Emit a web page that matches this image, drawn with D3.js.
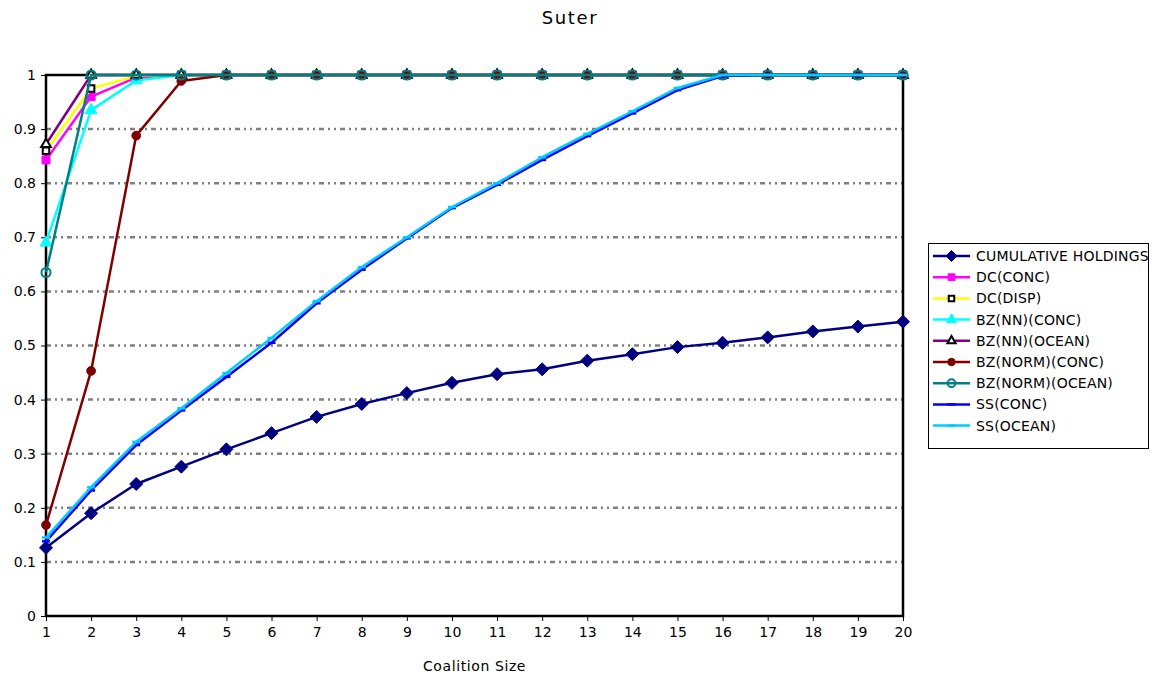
<!DOCTYPE html>
<html>
<head>
<meta charset="utf-8">
<script src="https://cdn.jsdelivr.net/npm/d3@7"></script>
<style>
  body { margin: 0; background: #fff; }
  svg { display: block; font-family: "DejaVu Sans", Verdana, sans-serif; }
</style>
</head>
<body>
<svg id="chart" width="1160" height="678"></svg>
<script>
const title = "Suter";
const xTitle = "Coalition Size";
const categories = [1,2,3,4,5,6,7,8,9,10,11,12,13,14,15,16,17,18,19,20];
const yTicks = [0,0.1,0.2,0.3,0.4,0.5,0.6,0.7,0.8,0.9,1];
const yTickLabels = ["0","0.1","0.2","0.3","0.4","0.5","0.6","0.7","0.8","0.9","1"];

const cumulativeHoldings = [0.126,0.19,0.244,0.276,0.308,0.338,0.368,0.392,0.412,0.431,0.447,0.456,0.472,0.484,0.497,0.505,0.515,0.526,0.535,0.544];
const dcConc   = [0.843,0.96,0.995,1,1,1,1,1,1,1,1,1,1,1,1,1,1,1,1,1];
const dcDisp   = [0.86,0.975,0.998,1,1,1,1,1,1,1,1,1,1,1,1,1,1,1,1,1];
const bzNnConc = [0.69,0.935,0.99,1,1,1,1,1,1,1,1,1,1,1,1,1,1,1,1,1];
const bzNnOcean = [0.872,1,1,1,1,1,1,1,1,1,1,1,1,1,1,1,1,1,1,1];
const bzNormConc = [0.168,0.453,0.888,0.989,1,1,1,1,1,1,1,1,1,1,1,1,1,1,1,1];
const bzNormOcean = [0.635,1,1,1,1,1,1,1,1,1,1,1,1,1,1,1,1,1,1,1];
const ssConc  = [0.138,0.232,0.316,0.38,0.442,0.505,0.578,0.64,0.698,0.754,0.797,0.843,0.887,0.929,0.972,0.998,1,1,1,1];
const ssOcean = [0.145,0.238,0.322,0.384,0.449,0.514,0.582,0.645,0.70,0.756,0.80,0.848,0.891,0.933,0.976,1,1,1,1,1];

const seriesNames = ["CUMULATIVE HOLDINGS","DC(CONC)","DC(DISP)","BZ(NN)(CONC)","BZ(NN)(OCEAN)","BZ(NORM)(CONC)","BZ(NORM)(OCEAN)","SS(CONC)","SS(OCEAN)"];
const seriesValues = [cumulativeHoldings, dcConc, dcDisp, bzNnConc, bzNnOcean, bzNormConc, bzNormOcean, ssConc, ssOcean];

// styles (kept separate from data)
const styles = [
  {color:"#000080", marker:"diamond", fill:"#000080", stroke:"#000080", size:6.5},
  {color:"#FF00FF", marker:"square", fill:"#FF00FF", stroke:"#FF00FF", size:64},
  {color:"#FFFF00", marker:"square", fill:"#FFFFFF", stroke:"#000000", size:42},
  {color:"#00FFFF", marker:"triangle", fill:"#00FFFF", stroke:"#00FFFF", size:60},
  {color:"#800080", marker:"triangle", fill:"#FFFFFF", stroke:"#000000", size:40},
  {color:"#800000", marker:"circle", fill:"#800000", stroke:"#800000", size:60},
  {color:"#008080", marker:"circle", fill:"none", stroke:"#008080", size:65},
  {color:"#0000FF", marker:"dash", fill:"#0000FF", stroke:"#0000FF", size:0},
  {color:"#00CCFF", marker:"dash", fill:"#00CCFF", stroke:"#00CCFF", size:0}
];

const svg = d3.select("#chart");
const pLeft = 46, pRight = 903, pTop = 75, pBottom = 616;

const x = d3.scalePoint().domain(categories).range([pLeft, pRight]);
const y = d3.scaleLinear().domain([0, 1]).range([pBottom, pTop]);

// title
svg.append("text").attr("x", 570).attr("y", 24).attr("text-anchor", "middle")
  .attr("font-size", 18).attr("letter-spacing", 1.6).attr("fill", "#000").text(title);

// gridlines
svg.append("g").selectAll("line").data(yTicks.filter(d => d > 0 && d < 1)).join("line")
  .attr("x1", pLeft).attr("x2", pRight)
  .attr("y1", d => y(d)).attr("y2", d => y(d))
  .attr("stroke", "#808080").attr("stroke-width", 2.5)
  .attr("stroke-dasharray", "5,4,2,4,2,4");

// axes
const axisFont = "DejaVu Sans, Verdana, sans-serif";
const yAxis = d3.axisLeft(y).tickValues(yTicks).tickFormat((d,i) => yTickLabels[i]).tickSize(5).tickPadding(5);
const gy = svg.append("g").attr("transform", `translate(${pLeft},0)`).call(yAxis);
gy.select(".domain").remove();
gy.selectAll("line").attr("stroke", "#000").attr("stroke-width", 1);
gy.selectAll("text").attr("font-size", 14).attr("font-family", axisFont).attr("fill", "#000");

const xAxis = d3.axisBottom(x).tickSize(5).tickPadding(6);
const gx = svg.append("g").attr("transform", `translate(0,${pBottom})`).call(xAxis);
gx.select(".domain").remove();
gx.selectAll("line").attr("stroke", "#000").attr("stroke-width", 1);
gx.selectAll("text").attr("font-size", 14).attr("font-family", axisFont).attr("fill", "#000");

// frame
svg.append("rect").attr("x", pLeft).attr("y", pTop).attr("width", pRight - pLeft).attr("height", pBottom - pTop)
  .attr("fill", "none").attr("stroke", "#000").attr("stroke-width", 2.5);

// x title
svg.append("text").attr("x", (pLeft + pRight) / 2).attr("y", 671).attr("text-anchor", "middle")
  .attr("font-size", 14).attr("letter-spacing", 0.6).attr("fill", "#000").text(xTitle);

const symbolTypes = {square: d3.symbolSquare, triangle: d3.symbolTriangle, circle: d3.symbolCircle};

function drawMarker(g, st, cx, cy, scale = 1) {
  if (st.marker === "dash") {
    g.append("line").attr("x1", cx - 4).attr("x2", cx + 4).attr("y1", cy).attr("y2", cy)
      .attr("stroke", st.stroke).attr("stroke-width", 2.5);
  } else if (st.marker === "diamond") {
    const r = st.size * scale;
    g.append("path").attr("d", `M0,${-r}L${r},0L0,${r}L${-r},0Z`)
      .attr("transform", `translate(${cx},${cy})`)
      .attr("fill", st.fill).attr("stroke", st.stroke).attr("stroke-width", 1);
  } else {
    g.append("path").attr("d", d3.symbol().type(symbolTypes[st.marker]).size(st.size * scale * scale)())
      .attr("transform", `translate(${cx},${cy})`)
      .attr("fill", st.fill).attr("stroke", st.stroke)
      .attr("stroke-width", st.fill === st.stroke ? 1 : 2);
  }
}

const line = d3.line().x((d, i) => x(categories[i])).y(d => y(d));
const plot = svg.append("g");
seriesValues.forEach((vals, si) => {
  const st = styles[si];
  const g = plot.append("g");
  g.append("path").datum(vals).attr("d", line).attr("fill", "none")
    .attr("stroke", st.color).attr("stroke-width", 2.5).attr("stroke-linejoin", "round");
  vals.forEach((v, i) => drawMarker(g, st, x(categories[i]), y(v)));
});

// legend
const lg = svg.append("g");
lg.append("rect").attr("x", 928.5).attr("y", 243.5).attr("width", 220).attr("height", 205)
  .attr("fill", "#fff").attr("stroke", "#000").attr("stroke-width", 1);
seriesNames.forEach((name, i) => {
  const st = styles[i];
  const ly = 256 + i * 21.2;
  lg.append("line").attr("x1", 933).attr("x2", 970).attr("y1", ly).attr("y2", ly)
    .attr("stroke", st.color).attr("stroke-width", 2.5);
  drawMarker(lg, st, 951.5, ly, 0.85);
  lg.append("text").attr("x", 976).attr("y", ly + 5).attr("font-size", 14)
    .attr("letter-spacing", 0.2).attr("fill", "#000").text(name);
});
</script>
</body>
</html>
